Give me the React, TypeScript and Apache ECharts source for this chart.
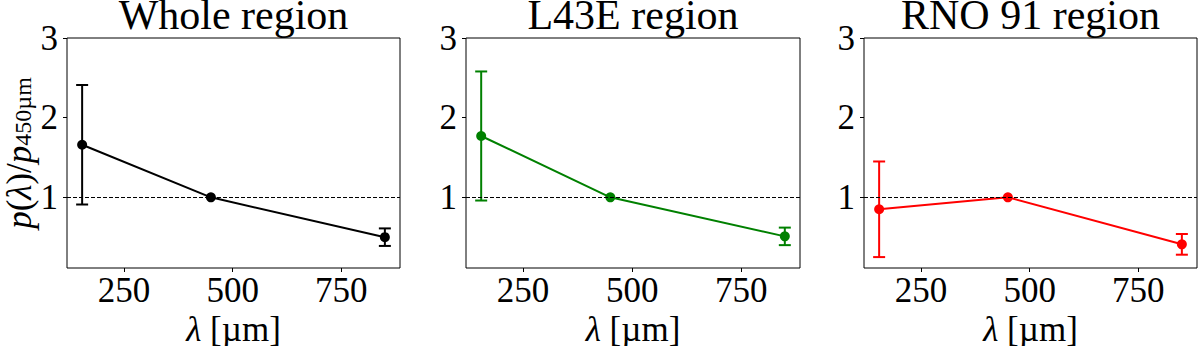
import React, { useEffect, useRef } from "react";
import * as echarts from "echarts";

const wavelengths = [154, 450, 850];
const titles = ["Whole region", "L43E region", "RNO 91 region"];
const colors = ["#000000", "#008000", "#ff0000"];
const wholeValues = [1.66, 1.0, 0.5];
const wholeErrors = [0.75, 0, 0.11];
const l43eValues = [1.77, 1.0, 0.51];
const l43eErrors = [0.81, 0, 0.11];
const rnoValues = [0.85, 1.0, 0.41];
const rnoErrors = [0.6, 0, 0.13];
const xTicks = [250, 500, 750];
const yTicks = [1, 2, 3];

const panelValues = [wholeValues, l43eValues, rnoValues];
const panelErrors = [wholeErrors, l43eErrors, rnoErrors];

const FONT = "'Liberation Serif', 'Times New Roman', serif";
const grids = [
  { left: 67, width: 333 },
  { left: 466, width: 334 },
  { left: 864, width: 333 },
];

export default function App() {
  const ref = useRef<HTMLDivElement>(null);
  useEffect(() => {
    if (!ref.current) return;
    const chart = echarts.init(ref.current, undefined, { renderer: "svg" });
    const xAxis: any[] = [];
    const yAxis: any[] = [];
    const series: any[] = [];
    const title: any[] = [];
    grids.forEach((g, i) => {
      title.push({
        text: titles[i],
        left: g.left + g.width / 2,
        top: 0,
        padding: 0,
        textAlign: "center",
        textStyle: { fontFamily: FONT, fontSize: 42, lineHeight: 30, fontWeight: "normal", color: "#000" },
      });
      xAxis.push({
        type: "value",
        gridIndex: i,
        min: 119.2,
        max: 884.8,
        axisLine: { show: false },
        splitLine: { show: false },
        axisTick: { show: true, inside: false, length: 4, lineStyle: { color: "#000", width: 1 }, customValues: xTicks },
        axisLabel: {
          customValues: xTicks,
          fontFamily: FONT,
          fontSize: 35,
          lineHeight: 30,
          color: "#000",
          margin: 7,
        },
        name: "{i|λ} [µm]",
        nameLocation: "middle",
        nameGap: 42,
        nameTextStyle: {
          fontFamily: FONT,
          fontSize: 35,
          lineHeight: 24,
          color: "#000",
          rich: {
            i: { fontFamily: FONT, fontSize: 35, lineHeight: 24, fontStyle: "italic", color: "#000" },
          },
        },
      });
      yAxis.push({
        type: "value",
        gridIndex: i,
        min: 0.113,
        max: 3,
        axisLine: { show: false },
        splitLine: { show: false },
        axisTick: { show: true, inside: false, length: 4, lineStyle: { color: "#000", width: 1 }, customValues: yTicks },
        axisLabel: { customValues: yTicks, fontFamily: FONT, fontSize: 35, lineHeight: 30, color: "#000", margin: 9 },
        name: i === 0 ? "{i|p}({i|λ})/{i|p}{s|450µm}" : "",
        nameLocation: "middle",
        nameGap: 30,
        nameRotate: 90,
        nameTextStyle: {
          fontFamily: FONT,
          fontSize: 35,
          lineHeight: 32,
          color: "#000",
          rich: {
            i: { fontFamily: FONT, fontSize: 35, fontStyle: "italic", color: "#000", lineHeight: 32 },
            s: { fontFamily: FONT, fontSize: 24, color: "#000", verticalAlign: "bottom", lineHeight: 22 },
          },
        },
      });
      const vals = panelValues[i];
      const errs = panelErrors[i];
      const color = colors[i];
      series.push({
        type: "custom",
        xAxisIndex: i,
        yAxisIndex: i,
        z: 2,
        data: wavelengths.map((w, k) => [w, vals[k] - errs[k], vals[k] + errs[k]]),
        encode: { x: 0, y: [1, 2] },
        renderItem: (params: any, api: any) => {
          const x = api.value(0);
          const lo = api.value(1);
          const hi = api.value(2);
          if (hi - lo <= 0) return { type: "group", children: [] };
          const p1 = api.coord([x, lo]);
          const p2 = api.coord([x, hi]);
          const cw = 6;
          const st = { stroke: color, lineWidth: 2 };
          return {
            type: "group",
            children: [
              { type: "line", shape: { x1: p1[0], y1: p1[1], x2: p2[0], y2: p2[1] }, style: st },
              { type: "line", shape: { x1: p1[0] - cw, y1: p1[1], x2: p1[0] + cw, y2: p1[1] }, style: st },
              { type: "line", shape: { x1: p2[0] - cw, y1: p2[1], x2: p2[0] + cw, y2: p2[1] }, style: st },
            ],
          };
        },
      });
      series.push({
        type: "line",
        xAxisIndex: i,
        yAxisIndex: i,
        z: 3,
        data: wavelengths.map((w, k) => [w, vals[k]]),
        symbol: "circle",
        symbolSize: 10,
        lineStyle: { color, width: 2 },
        itemStyle: { color },
        markLine: {
          silent: true,
          symbol: "none",
          label: { show: false },
          lineStyle: { color: "#000", type: [4, 2], width: 1 },
          data: [{ yAxis: 1 }],
        },
      });
    });
    chart.setOption({
      animation: false,
      backgroundColor: "#fff",
      textStyle: { fontFamily: FONT },
      title,
      grid: grids.map((g) => ({
        left: g.left,
        width: g.width,
        top: 38,
        height: 230,
        show: true,
        borderColor: "#000",
        borderWidth: 1,
        backgroundColor: "transparent",
        containLabel: false,
        outerBoundsMode: "none",
      })),
      xAxis,
      yAxis,
      series,
    });
    return () => chart.dispose();
  }, []);
  return (
    <div
      ref={ref}
      style={{ position: "fixed", left: 0, top: 0, width: 1200, height: 346 }}
    />
  );
}
